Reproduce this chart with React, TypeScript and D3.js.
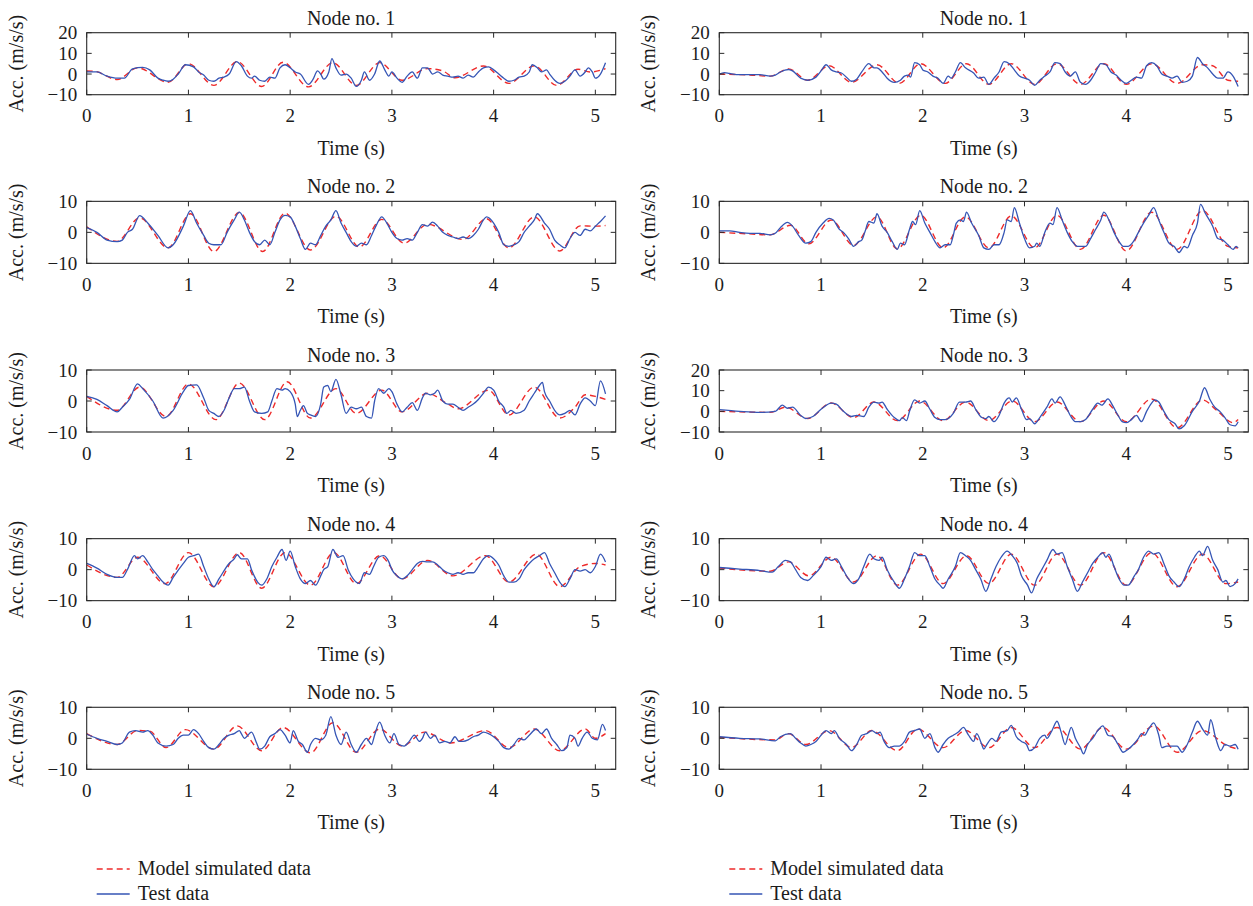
import React from "react";
import * as d3 from "d3";

type P = [number, number];

const xTicks = [0, 1, 2, 3, 4, 5];
const yTicksWide = [-10, 0, 10, 20];
const yTicksNarrow = [-10, 0, 10];
const titles = ["Node no. 1", "Node no. 2", "Node no. 3", "Node no. 4", "Node no. 5"];
const legendLabels = ["Model simulated data", "Test data"];

// ---------- Left column ----------
const left1Model: P[] = [[0,1.5],[0.08,1.3],[0.3,-2.7],[0.5,3],[0.8,-4],[1.0,5],[1.25,-5.5],[1.48,6],[1.72,-6],[1.93,5.7],[2.18,-6.2],[2.42,5.5],[2.65,-5.5],[2.88,5.5],[3.1,-3],[3.35,2.6],[3.5,1.5],[3.62,-1.8],[3.9,3.9],[4.15,-4.5],[4.4,4],[4.62,-5.5],[4.83,2.3],[4.95,1],[5.1,2.6]];
const left1Test: P[] = [[0,1],[0.1,1],[0.2,-1],[0.3,-2],[0.37,-2],[0.45,2.5],[0.55,3.2],[0.62,2],[0.7,-2],[0.75,-3],[0.8,-3.5],[0.85,-2.5],[0.9,0],[0.97,4.5],[1.05,3.5],[1.1,1],[1.15,-0.5],[1.2,-3],[1.25,-3.5],[1.3,-2],[1.35,-1.5],[1.4,0],[1.47,6],[1.52,4],[1.58,-1],[1.62,-2],[1.65,-1],[1.7,-3],[1.75,-3.5],[1.8,-1.5],[1.85,-2],[1.9,3],[1.95,4.5],[2.0,3],[2.05,1],[2.1,0],[2.18,-5],[2.22,-3],[2.27,1.5],[2.3,0],[2.33,-2.5],[2.38,1],[2.41,7.5],[2.45,3],[2.5,-0.5],[2.55,0],[2.6,-2],[2.65,-6],[2.7,-3],[2.73,1],[2.78,-3],[2.83,0],[2.88,6.3],[2.93,2],[2.97,-1],[3.0,1],[3.05,-2],[3.1,-4],[3.15,-1],[3.2,1],[3.25,-2],[3.3,3],[3.35,3],[3.4,0],[3.45,1],[3.5,-0.5],[3.55,-1],[3.6,-1.5],[3.65,-1],[3.7,-2],[3.75,-0.5],[3.8,-1.5],[3.85,1],[3.9,3],[3.95,3.5],[4.0,2],[4.05,0],[4.1,-2],[4.15,-3.5],[4.2,-3],[4.25,-1.5],[4.3,-1],[4.35,1],[4.38,4.5],[4.43,3],[4.47,1],[4.52,2],[4.55,0],[4.6,-3],[4.65,-4.5],[4.7,-3.5],[4.75,-1],[4.8,2],[4.85,-1],[4.9,1],[4.93,3],[4.97,1],[5.0,-2],[5.05,0],[5.1,5.5]];

const left2Model: P[] = [[0,1.8],[0.3,-2.9],[0.52,4.7],[0.8,-5],[1.02,6],[1.25,-6.2],[1.5,6.4],[1.73,-6.2],[1.95,6.2],[2.2,-5.7],[2.45,5.2],[2.68,-4.7],[2.9,4.2],[3.12,-3.5],[3.35,2.6],[3.7,-2.3],[3.93,4.4],[4.15,-5],[4.4,5],[4.65,-6],[4.85,2.1],[5.0,2],[5.1,2.2]];
const left2Test: P[] = [[0,1.5],[0.1,0],[0.2,-2.5],[0.3,-3],[0.35,-2.5],[0.4,0],[0.45,1],[0.52,5.4],[0.6,3],[0.7,-1],[0.8,-5],[0.85,-4],[0.95,2],[1.02,7],[1.08,3],[1.15,-1],[1.2,-3.5],[1.25,-4],[1.32,-4],[1.38,0],[1.45,4],[1.5,6.5],[1.55,4],[1.6,0],[1.65,-3],[1.7,-4],[1.75,-2.5],[1.8,-4],[1.85,0],[1.9,4],[1.95,5.5],[2.0,5],[2.05,2],[2.1,-2],[2.15,-5.5],[2.2,-3.5],[2.25,-4],[2.3,-1],[2.35,2],[2.4,4],[2.45,7],[2.5,3],[2.55,0],[2.6,-3],[2.65,-4.5],[2.7,-3.5],[2.75,-4],[2.8,-1],[2.85,2.5],[2.9,5],[2.95,3],[3.0,0],[3.05,-2],[3.1,-2.5],[3.15,-2],[3.2,-2.5],[3.25,0],[3.3,2.5],[3.35,2],[3.4,3.3],[3.45,2],[3.5,0],[3.55,-1],[3.6,-1.5],[3.65,-2],[3.7,-1.5],[3.75,-2],[3.8,-1],[3.85,1],[3.9,4],[3.93,5],[4.0,3],[4.05,0],[4.1,-4],[4.15,-4.5],[4.2,-4],[4.25,-3],[4.3,0],[4.35,2],[4.4,4],[4.43,6],[4.5,3],[4.55,1],[4.6,-2.5],[4.65,-4],[4.7,-5],[4.75,-2],[4.8,0],[4.85,-1],[4.9,1],[4.95,0.5],[5.0,2],[5.05,3.5],[5.1,5.3]];

const left3Model: P[] = [[0,1.5],[0.3,-3],[0.52,4.5],[0.78,-5],[1.0,5.5],[1.27,-6],[1.5,5.8],[1.75,-6],[1.97,6.2],[2.2,-5.5],[2.45,4],[2.65,-4],[2.9,3.5],[3.1,-3.5],[3.35,2.5],[3.55,-1],[3.65,-2.5],[3.95,3.5],[4.15,-4.5],[4.4,4.5],[4.65,-5.5],[4.8,-2],[4.9,2],[5.0,1.5],[5.1,0.5]];
const left3Test: P[] = [[0,1.5],[0.1,0.5],[0.2,-1.5],[0.3,-3.5],[0.35,-2],[0.42,0.5],[0.5,5.5],[0.55,4],[0.65,0],[0.75,-5.5],[0.85,-3],[0.95,3],[1.0,5],[1.08,5.2],[1.15,1],[1.2,-3],[1.25,-4],[1.3,-5],[1.35,-3],[1.4,1],[1.45,4],[1.5,4],[1.55,4.5],[1.6,0],[1.65,-3.5],[1.72,-4],[1.78,-3.5],[1.82,0],[1.87,4],[1.92,3.5],[1.95,4],[2.0,3],[2.05,-1],[2.07,-5],[2.1,-3],[2.13,-1.5],[2.17,-4],[2.2,-4.5],[2.25,-5],[2.3,-1],[2.33,4.5],[2.37,5],[2.4,3],[2.45,7],[2.5,2],[2.55,-4],[2.6,-2],[2.65,-2.5],[2.7,-2],[2.75,-5],[2.8,-5.5],[2.83,0],[2.87,4],[2.92,2.5],[2.97,4],[3.0,3],[3.05,-1],[3.1,-3.5],[3.15,-2],[3.2,-0.5],[3.25,-3],[3.3,1],[3.33,2.5],[3.38,2],[3.42,2.5],[3.45,3.5],[3.5,0],[3.55,-1],[3.6,-1],[3.65,-2],[3.7,-3],[3.75,-2],[3.8,-1],[3.85,0.5],[3.9,2.5],[3.95,4.5],[4.0,3.5],[4.05,0],[4.1,-2],[4.13,-4],[4.17,-3],[4.22,-4],[4.3,-3],[4.35,0],[4.4,2.5],[4.45,5],[4.48,6],[4.5,3],[4.55,0],[4.6,-3],[4.65,-4.5],[4.7,-4],[4.75,-3],[4.8,-4.5],[4.85,-1],[4.9,1],[4.95,0],[5.0,-1.5],[5.05,6.5],[5.1,2.3]];

const left4Model: P[] = [[0,1.5],[0.3,-2.5],[0.5,4],[0.77,-4.5],[1.0,5.5],[1.25,-5.5],[1.5,5.5],[1.72,-6],[1.95,5.5],[2.2,-5],[2.43,5.5],[2.65,-4.5],[2.88,4.5],[3.1,-3],[3.35,3],[3.6,-2],[3.92,4.5],[4.15,-4],[4.42,5],[4.65,-5.5],[4.85,1],[5.0,2],[5.1,1.5]];
const left4Test: P[] = [[0,2],[0.1,0.5],[0.2,-1.5],[0.3,-2.5],[0.35,-2.5],[0.4,0],[0.47,4.5],[0.5,3.5],[0.55,4.5],[0.6,2.5],[0.65,0],[0.7,-2],[0.75,-4],[0.8,-5],[0.85,-2.5],[0.95,2],[1.0,4],[1.05,4.5],[1.1,5],[1.15,1],[1.2,-3],[1.25,-5.5],[1.3,-3],[1.4,2],[1.45,3.5],[1.48,4.8],[1.52,3.5],[1.58,3.5],[1.62,0],[1.68,-4],[1.72,-5],[1.77,-3],[1.82,1],[1.87,4],[1.92,6.5],[1.96,3],[2.0,6],[2.05,1],[2.1,-3],[2.15,-4.5],[2.2,-3.5],[2.25,-5],[2.3,-2],[2.33,0],[2.37,1],[2.42,6.5],[2.47,4],[2.52,4.5],[2.57,0],[2.62,-3],[2.68,-4.5],[2.73,-1],[2.78,-1.5],[2.82,1],[2.87,4],[2.92,4.5],[2.97,2.5],[3.0,0],[3.05,-2],[3.1,-3],[3.15,-2],[3.2,0],[3.25,2],[3.3,2.7],[3.35,2.5],[3.4,2.5],[3.45,1.5],[3.5,0],[3.55,-1],[3.6,-1.5],[3.65,-1],[3.7,-1.5],[3.75,-1],[3.8,-1],[3.85,1],[3.9,3.5],[3.95,4.5],[4.0,3.5],[4.05,1.5],[4.1,-2],[4.15,-4],[4.2,-4],[4.25,-3],[4.3,0],[4.35,2],[4.4,3.5],[4.45,4.5],[4.5,5.5],[4.55,2],[4.6,-1],[4.65,-4],[4.7,-5.5],[4.75,-3],[4.8,0],[4.85,-0.5],[4.9,0],[4.95,-1],[5.0,1],[5.05,5],[5.1,2.5]];

const left5Model: P[] = [[0,1.5],[0.3,-2],[0.5,2.5],[0.62,2.3],[0.78,-3],[0.97,2.8],[1.25,-3.5],[1.48,4],[1.72,-4],[1.93,3.5],[2.2,-4.7],[2.42,5],[2.65,-4.5],[2.88,3],[3.1,-2.5],[3.32,2],[3.58,-1.5],[3.92,2.5],[4.15,-3],[4.4,3],[4.65,-4],[4.9,3],[5.0,0],[5.1,1.5]];
const left5Test: P[] = [[0,1.3],[0.1,0],[0.2,-1],[0.3,-2],[0.35,-1.5],[0.42,2],[0.48,2.5],[0.55,2],[0.6,2.5],[0.65,1],[0.7,-1.5],[0.78,-2.5],[0.85,-2],[0.9,0],[0.95,1],[1.0,1],[1.05,2.8],[1.1,1.5],[1.15,-1],[1.2,-3],[1.25,-3.5],[1.3,-2],[1.35,0],[1.4,1],[1.45,1.5],[1.5,2.5],[1.52,1.5],[1.55,0],[1.62,2],[1.67,-1.5],[1.7,-3.5],[1.75,-2.5],[1.8,0.5],[1.85,1.5],[1.9,2.8],[1.95,1],[2.0,-1.5],[2.03,2.5],[2.08,-1],[2.12,-2],[2.17,-4.5],[2.2,-2],[2.25,0],[2.3,-0.5],[2.35,1],[2.4,7],[2.45,1],[2.5,-2],[2.55,2],[2.6,-2],[2.65,-4.5],[2.7,-2],[2.75,0],[2.8,-2],[2.83,1],[2.88,5.2],[2.93,1],[2.98,-1.5],[3.02,1.5],[3.07,-2],[3.12,-2.5],[3.17,-1],[3.22,1],[3.27,-1],[3.3,0],[3.33,2],[3.38,0],[3.42,1],[3.47,-1.5],[3.52,-1],[3.57,-1.5],[3.62,0.5],[3.66,-1],[3.7,-1],[3.75,-0.5],[3.8,0.5],[3.85,1],[3.9,2],[3.95,1.5],[4.0,0.5],[4.05,-1],[4.1,-3],[4.15,-3.5],[4.2,-2],[4.25,0],[4.3,-0.5],[4.35,1],[4.42,3],[4.47,1.5],[4.52,3],[4.57,0],[4.62,-2],[4.67,-4],[4.72,-3],[4.75,1],[4.8,0],[4.83,-2.5],[4.87,0],[4.92,2],[4.97,0],[5.02,-0.5],[5.07,4.5],[5.1,2.5]];

// ---------- Right column ----------
const right1Model: P[] = [[0,0],[0.3,-0.5],[0.5,-1],[0.68,2.5],[0.87,-3],[1.08,4],[1.3,-4],[1.55,4.5],[1.77,-4.5],[1.98,5],[2.22,-4.5],[2.43,5],[2.65,-5],[2.87,5],[3.1,-5],[3.32,5],[3.55,-5],[3.78,5],[4.0,-5],[4.25,5],[4.5,-4.5],[4.75,4.5],[4.85,4],[5.0,-3],[5.1,-3.5]];
const right1Test: P[] = [[0,0],[0.05,0.7],[0.1,0.3],[0.2,-0.3],[0.3,-0.3],[0.4,-0.3],[0.5,-1],[0.55,-0.5],[0.6,1],[0.68,2.2],[0.72,1.5],[0.8,-2],[0.87,-3],[0.95,-1.5],[1.0,1.5],[1.05,4.5],[1.1,2],[1.15,1],[1.2,0.5],[1.25,-1.5],[1.3,-3.5],[1.35,-2.5],[1.4,1],[1.47,5],[1.52,3],[1.55,3],[1.6,1],[1.65,-2],[1.72,-4],[1.78,-3],[1.82,-1],[1.86,-0.5],[1.88,-1.5],[1.92,5.5],[1.97,4.5],[2.0,2],[2.05,1],[2.1,-1],[2.15,-2],[2.2,-4.5],[2.25,-1],[2.28,-2],[2.32,1],[2.37,5.5],[2.42,3],[2.5,0.5],[2.55,-2],[2.6,-1.5],[2.65,-5],[2.7,-2],[2.75,1],[2.8,6],[2.85,5],[2.9,2],[2.95,-1],[3.0,-2],[3.05,-3],[3.1,-5.5],[3.15,-3],[3.2,-1],[3.25,1],[3.3,5.5],[3.35,5],[3.4,1],[3.45,-1],[3.5,1],[3.55,-4],[3.6,-5],[3.65,-3],[3.7,1],[3.75,5],[3.8,4.5],[3.85,1],[3.9,-0.5],[3.95,-3],[4.0,-4.5],[4.05,-3],[4.1,-1.5],[4.15,-2],[4.2,4],[4.25,5.5],[4.3,4],[4.35,0],[4.4,-1],[4.45,-2],[4.5,-1],[4.55,-4],[4.6,-3.5],[4.65,-1],[4.7,8],[4.75,5],[4.8,3],[4.85,0],[4.9,-2],[4.95,-2],[5.0,1],[5.05,-1],[5.1,-6]];

const right2Model: P[] = [[0,0],[0.3,-0.5],[0.5,-0.8],[0.7,2.3],[0.88,-3.7],[1.1,4],[1.32,-4.2],[1.55,5],[1.75,-5.3],[1.98,5.5],[2.2,-5],[2.42,5],[2.65,-5],[2.87,5.3],[3.1,-5],[3.32,5.5],[3.55,-5.5],[3.78,5.5],[4.0,-6],[4.25,6.5],[4.5,-5.5],[4.75,7],[5.0,-4.5],[5.1,-5]];
const right2Test: P[] = [[0,0.5],[0.1,0.5],[0.2,0],[0.3,-0.3],[0.4,-0.3],[0.5,-0.8],[0.55,-0.3],[0.6,1.5],[0.67,3.2],[0.72,2],[0.78,-1],[0.85,-3.5],[0.9,-3],[0.95,0],[1.02,3],[1.08,4.5],[1.12,4],[1.18,1],[1.22,0],[1.27,-2],[1.32,-4.5],[1.37,-3],[1.4,-2.5],[1.43,0],[1.47,3.5],[1.52,3],[1.55,6],[1.6,2],[1.65,0],[1.7,-3],[1.75,-5.5],[1.78,-3.5],[1.82,-4],[1.87,1],[1.9,3.5],[1.93,2.5],[1.97,7],[2.02,3],[2.07,0],[2.12,-3],[2.17,-5],[2.22,-4],[2.27,-4],[2.3,-1],[2.33,3],[2.37,4],[2.4,3.5],[2.43,6.5],[2.48,3],[2.55,-1],[2.6,-5],[2.65,-5.5],[2.7,-4],[2.75,-4],[2.8,0],[2.83,4],[2.87,3.5],[2.9,8],[2.95,3],[3.0,-2],[3.05,-5],[3.1,-4.5],[3.12,-3.5],[3.15,-4.5],[3.2,0],[3.25,3],[3.28,2.5],[3.32,8],[3.37,4],[3.42,0],[3.47,-3],[3.52,-4.5],[3.57,-4.5],[3.6,-4.5],[3.65,-2],[3.7,1],[3.75,4],[3.78,6.5],[3.83,4],[3.88,0],[3.93,-3],[3.97,-4.5],[4.02,-4.5],[4.07,-3],[4.12,0],[4.17,3],[4.22,5.5],[4.27,8],[4.32,4],[4.37,0],[4.42,-3.5],[4.47,-4.5],[4.52,-6.5],[4.57,-4.5],[4.6,-5],[4.65,-1],[4.7,3],[4.73,9],[4.78,6],[4.85,2],[4.9,-2],[4.95,-2.5],[5.0,-4],[5.05,-5.5],[5.08,-4.5],[5.1,-5]];

const right3Model: P[] = [[0,0],[0.5,-0.5],[0.65,2],[0.87,-3.5],[1.1,4],[1.32,-3],[1.52,4.5],[1.75,-4.5],[1.97,5],[2.2,-4.5],[2.42,4.5],[2.65,-4.5],[2.88,5],[3.1,-5],[3.32,4.5],[3.55,-5],[3.78,5],[4.0,-5],[4.25,6],[4.5,-8],[4.75,5.5],[4.9,0],[5.05,-5.5],[5.1,-4]];
const right3Test: P[] = [[0,0.8],[0.2,0],[0.4,-0.5],[0.55,0],[0.62,3],[0.67,1.5],[0.72,2],[0.8,-2],[0.85,-3.5],[0.92,-2.5],[1.0,1],[1.1,4],[1.15,3.5],[1.22,0],[1.3,-2.5],[1.35,-2],[1.42,-2.5],[1.47,2],[1.52,4.5],[1.57,4],[1.6,4.5],[1.65,1],[1.72,-3],[1.77,-4.5],[1.8,-3],[1.84,-4.5],[1.87,0],[1.92,5.5],[1.97,4],[2.02,5],[2.07,1],[2.12,-3],[2.17,-4],[2.22,-4],[2.3,-1],[2.36,4.5],[2.42,4.5],[2.47,5],[2.52,1],[2.58,-3],[2.62,-3.5],[2.65,-2.5],[2.7,-5],[2.75,-2],[2.8,4],[2.85,6.5],[2.88,4.5],[2.92,6.5],[2.97,1],[3.02,-4],[3.05,-3.5],[3.1,-6],[3.15,-3],[3.22,2],[3.27,6],[3.3,4],[3.35,7],[3.4,3],[3.45,-2],[3.5,-5],[3.55,-5],[3.6,-4],[3.67,1],[3.72,4],[3.76,3],[3.82,6],[3.87,2.5],[3.92,-2],[3.96,-5],[4.0,-5.5],[4.05,-4],[4.1,-2],[4.15,-5],[4.2,0],[4.25,4],[4.28,5.5],[4.32,4.5],[4.37,0],[4.42,-4],[4.48,-6],[4.52,-8.5],[4.57,-7],[4.65,0],[4.72,5],[4.77,11.4],[4.82,6],[4.87,2],[4.92,0],[4.97,-3],[5.02,-6.5],[5.07,-7],[5.1,-5]];

const right4Model: P[] = [[0,0.5],[0.5,-0.5],[0.68,2.5],[0.88,-2],[1.1,4],[1.32,-4],[1.55,4.5],[1.75,-5],[1.98,5],[2.2,-4.5],[2.43,4.5],[2.65,-4.5],[2.87,5],[3.1,-5],[3.32,5],[3.55,-5],[3.78,5.5],[4.0,-5],[4.25,5.5],[4.5,-5.5],[4.75,5],[4.98,-4.5],[5.1,-4]];
const right4Test: P[] = [[0,0.7],[0.2,0.2],[0.4,-0.3],[0.52,-0.8],[0.58,1],[0.65,3],[0.7,2.5],[0.75,0],[0.8,-2.5],[0.87,-3.5],[0.92,-2],[1.0,1],[1.05,4],[1.1,3],[1.15,3.5],[1.2,1],[1.27,-3],[1.32,-4.5],[1.37,-3],[1.42,1],[1.48,5],[1.52,3.5],[1.57,3],[1.6,4],[1.65,0],[1.72,-4],[1.77,-6],[1.82,-3],[1.87,1],[1.92,5.5],[1.97,4.5],[2.02,4.5],[2.07,1],[2.12,-3],[2.17,-5],[2.2,-6],[2.25,-3],[2.32,1],[2.37,5.5],[2.42,4.5],[2.47,3],[2.52,0],[2.57,-3],[2.62,-7],[2.67,-3],[2.72,1],[2.77,4],[2.83,6],[2.88,4.5],[2.93,2],[2.97,-2],[3.03,-5],[3.07,-7.5],[3.12,-3],[3.17,0],[3.22,3],[3.28,6.5],[3.32,5],[3.37,5.5],[3.42,1],[3.47,-3],[3.52,-7],[3.57,-4],[3.62,-1],[3.67,2],[3.72,4],[3.77,5.5],[3.8,4],[3.83,5],[3.88,1],[3.93,-3],[3.98,-5],[4.02,-5],[4.08,-2],[4.12,0],[4.17,4],[4.22,6],[4.27,5],[4.32,5.5],[4.37,2],[4.42,-2],[4.47,-4],[4.52,-5.5],[4.57,-3],[4.62,1],[4.67,4],[4.72,6],[4.75,4.5],[4.8,7.5],[4.85,3],[4.9,0],[4.95,-4],[4.98,-3.5],[5.02,-5.5],[5.07,-4.5],[5.1,-3]];

const right5Model: P[] = [[0,0.3],[0.55,-0.5],[0.68,1.5],[0.85,-2],[1.08,2.5],[1.3,-3],[1.5,2.5],[1.75,-4],[1.95,3],[2.2,-3],[2.42,2.5],[2.65,-3],[2.87,3.5],[3.1,-3],[3.32,3.5],[3.55,-3.5],[3.77,3.5],[4.0,-3.5],[4.27,4],[4.5,-4.5],[4.75,2.5],[5.0,-2.5],[5.1,-3.5]];
const right5Test: P[] = [[0,0.5],[0.2,0],[0.4,-0.2],[0.55,-0.8],[0.6,0.5],[0.7,1.5],[0.75,0],[0.8,-1.5],[0.85,-2.5],[0.9,-2],[0.95,-1],[1.0,1],[1.05,2.5],[1.1,1.5],[1.13,2.5],[1.18,0],[1.25,-2],[1.3,-4],[1.35,-2],[1.4,1],[1.45,1.5],[1.5,2.5],[1.55,1.5],[1.58,2],[1.62,-1],[1.67,-3],[1.72,-2.5],[1.77,-2.5],[1.82,-1],[1.87,2],[1.92,2.5],[1.97,3],[2.02,0],[2.07,1.5],[2.12,-3],[2.15,-4.5],[2.2,-2],[2.25,0],[2.3,1],[2.35,2],[2.4,3.5],[2.45,1],[2.5,-1],[2.53,1.5],[2.58,-2],[2.6,-3.5],[2.63,-2],[2.68,0],[2.72,-1],[2.77,2],[2.83,2.5],[2.87,4.2],[2.92,0.5],[2.97,-1],[3.02,-2],[3.05,-4],[3.1,-3],[3.15,0],[3.2,1],[3.22,0],[3.27,2.5],[3.32,5.5],[3.36,2],[3.4,-2],[3.43,1],[3.46,3.5],[3.5,0],[3.55,-3],[3.58,-5],[3.62,-2],[3.67,0],[3.72,2.5],[3.77,4],[3.82,1],[3.87,0.5],[3.92,-2],[3.97,-4.5],[4.02,-3.5],[4.07,-2],[4.12,0],[4.15,1.5],[4.18,1],[4.22,3],[4.27,5],[4.32,1],[4.35,-3],[4.4,-2.5],[4.45,-2.5],[4.5,-2.5],[4.55,-4.5],[4.6,-2],[4.65,2],[4.7,5.5],[4.75,3],[4.8,1],[4.83,6],[4.88,0],[4.93,-4],[4.97,-2],[5.02,-2.5],[5.07,-2],[5.1,-3.5]];

const leftModels = [left1Model, left2Model, left3Model, left4Model, left5Model];
const leftTests = [left1Test, left2Test, left3Test, left4Test, left5Test];
const rightModels = [right1Model, right2Model, right3Model, right4Model, right5Model];
const rightTests = [right1Test, right2Test, right3Test, right4Test, right5Test];
const leftYTicks = [yTicksWide, yTicksNarrow, yTicksNarrow, yTicksNarrow, yTicksNarrow];
const rightYTicks = [yTicksWide, yTicksNarrow, yTicksWide, yTicksNarrow, yTicksNarrow];

const W = 1253;
const H = 906;
const LEFT_X = 86.7;
const COL_DX = 632.6;
const PLOT_W = 529;
const PLOT_H = 62;
const TOP0 = 32.7;
const PITCH = 168.65;
const RED = "#ee2a2a";
const BLUE = "#3555b5";
const FONT = "'Liberation Serif', 'Times New Roman', serif";
const INK = "#1c1c1c";

function Panel({ x0, y0, title, yTicks, model, test }: { x0: number; y0: number; title: string; yTicks: number[]; model: P[]; test: P[] }) {
  const yMax = yTicks[yTicks.length - 1];
  const x = d3.scaleLinear().domain([0, 5.2]).range([x0, x0 + PLOT_W]);
  const y = d3.scaleLinear().domain([-10, yMax]).range([y0 + PLOT_H, y0]);
  const line = d3
    .line<P>()
    .x((d) => x(d[0]))
    .y((d) => y(d[1]))
    .curve(d3.curveMonotoneX);
  const tl = 5;
  const bottom = y0 + PLOT_H;
  return (
    <g>
      <text x={x0 + PLOT_W / 2} y={y0 - 8} textAnchor="middle" fontSize={20} fontFamily={FONT} fill={INK}>
        {title}
      </text>
      <defs>
        <clipPath id={`clip-${Math.round(x0)}-${Math.round(y0)}`}>
          <rect x={x0} y={y0} width={PLOT_W} height={PLOT_H} />
        </clipPath>
      </defs>
      <g clipPath={`url(#clip-${Math.round(x0)}-${Math.round(y0)})`}>
        <path d={line(model) || ""} fill="none" stroke={RED} strokeWidth={1.4} strokeDasharray="6,4" />
        <path d={line(test) || ""} fill="none" stroke={BLUE} strokeWidth={1.3} />
      </g>
      <rect x={x0} y={y0} width={PLOT_W} height={PLOT_H} fill="none" stroke="#2a2a2a" strokeWidth={1.1} />
      {xTicks.map((t) => (
        <g key={"x" + t}>
          <line x1={x(t)} x2={x(t)} y1={bottom} y2={bottom - tl} stroke="#2a2a2a" strokeWidth={1} />
          <line x1={x(t)} x2={x(t)} y1={y0} y2={y0 + tl} stroke="#2a2a2a" strokeWidth={1} />
          <text x={x(t)} y={bottom + 27.5} textAnchor="middle" fontSize={19} fontFamily={FONT} fill={INK}>
            {t}
          </text>
        </g>
      ))}
      {yTicks.map((v) => (
        <g key={"y" + v}>
          <line x1={x0} x2={x0 + tl} y1={y(v)} y2={y(v)} stroke="#2a2a2a" strokeWidth={1} />
          <line x1={x0 + PLOT_W} x2={x0 + PLOT_W - tl} y1={y(v)} y2={y(v)} stroke="#2a2a2a" strokeWidth={1} />
          <text x={x0 - 9.5} y={y(v) + 6.5} textAnchor="end" fontSize={19} fontFamily={FONT} fill={INK}>
            {v < 0 ? "\u2212" + Math.abs(v) : String(v)}
          </text>
        </g>
      ))}
      <text
        transform={`translate(${x0 - 64},${y0 + PLOT_H / 2}) rotate(-90)`}
        textAnchor="middle"
        fontSize={20}
        fontFamily={FONT}
        fill={INK}
      >
        Acc. (m/s/s)
      </text>
      <text x={x0 + PLOT_W / 2} y={bottom + 60} textAnchor="middle" fontSize={20} fontFamily={FONT} fill={INK}>
        Time (s)
      </text>
    </g>
  );
}

function Legend({ x0 }: { x0: number }) {
  const lx1 = x0 + 10;
  const lx2 = x0 + 43;
  const tx = x0 + 51;
  return (
    <g>
      <line x1={lx1} x2={lx2} y1={869} y2={869} stroke={RED} strokeWidth={1.4} strokeDasharray="6,4" />
      <text x={tx} y={875} fontSize={20} fontFamily={FONT} fill={INK}>
        {legendLabels[0]}
      </text>
      <line x1={lx1} x2={lx2} y1={894} y2={894} stroke={BLUE} strokeWidth={1.3} />
      <text x={tx} y={900} fontSize={20} fontFamily={FONT} fill={INK}>
        {legendLabels[1]}
      </text>
    </g>
  );
}

export default function App() {
  return (
    <svg
      width={W}
      height={H}
      viewBox={`0 0 ${W} ${H}`}
      style={{ position: "absolute", left: 0, top: 0, display: "block", background: "#fff" }}
    >
      <rect width={W} height={H} fill="#fff" />
      {titles.map((t, i) => (
        <Panel
          key={"L" + i}
          x0={LEFT_X}
          y0={TOP0 + PITCH * i}
          title={t}
          yTicks={leftYTicks[i]}
          model={leftModels[i]}
          test={leftTests[i]}
        />
      ))}
      {titles.map((t, i) => (
        <Panel
          key={"R" + i}
          x0={LEFT_X + COL_DX}
          y0={TOP0 + PITCH * i}
          title={t}
          yTicks={rightYTicks[i]}
          model={rightModels[i]}
          test={rightTests[i]}
        />
      ))}
      <Legend x0={LEFT_X} />
      <Legend x0={LEFT_X + COL_DX} />
    </svg>
  );
}
